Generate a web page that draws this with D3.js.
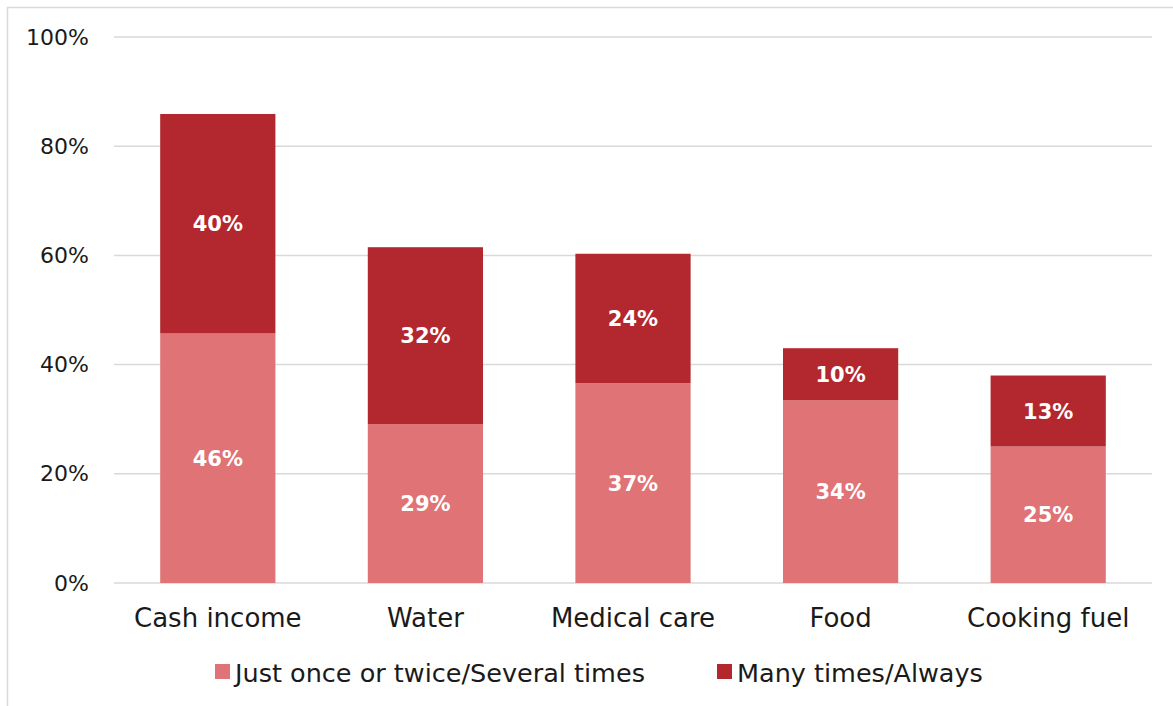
<!DOCTYPE html>
<html>
<head>
<meta charset="utf-8">
<script src="https://cdnjs.cloudflare.com/ajax/libs/d3/7.8.5/d3.min.js"></script>
<style>
  html, body { margin: 0; padding: 0; background: #fff; }
  svg { display: block; }
  text { font-family: "DejaVu Sans", sans-serif; }
</style>
</head>
<body>
<svg id="chart" width="1173" height="706"></svg>
<script>
const categories = ["Cash income", "Water", "Medical care", "Food", "Cooking fuel"];
const seriesNames = ["Just once or twice/Several times", "Many times/Always"];
const lowerValues = [45.7, 29.1, 36.6, 33.5, 25.0];
const upperValues = [40.2, 32.4, 23.7, 9.5, 13.0];
const yTicks = [0, 20, 40, 60, 80, 100];
const colors = ["#E07376", "#B3282E"];

const svg = d3.select("#chart");
const W = 1173, H = 706;
const plot = { left: 114, right: 1152, top: 37, bottom: 583 };

// outer border
svg.append("rect").attr("x", 7.5).attr("y", 7.5).attr("width", W + 10).attr("height", H + 10)
  .attr("fill", "none").attr("stroke", "#D9D9D9").attr("stroke-width", 1.5);

const x = d3.scaleBand().domain(categories).range([plot.left, plot.right])
  .paddingInner(0.445).paddingOuter(0.2225);
const y = d3.scaleLinear().domain([0, 100]).range([plot.bottom, plot.top]);

// gridlines
svg.append("g").selectAll("line").data(yTicks).join("line")
  .attr("x1", plot.left).attr("x2", plot.right)
  .attr("y1", d => y(d)).attr("y2", d => y(d))
  .attr("stroke", "#D9D9D9").attr("stroke-width", 1.5);

// y axis labels
const yAxis = d3.axisLeft(y).tickValues(yTicks).tickFormat(d => d + "%").tickSize(0).tickPadding(0);
const yg = svg.append("g").attr("transform", `translate(89,0)`).call(yAxis);
yg.select(".domain").remove();
yg.selectAll("text").attr("font-size", 22).attr("fill", "#1a1a1a").attr("font-family", "DejaVu Sans");

// x axis labels
const xAxis = d3.axisBottom(x).tickSize(0).tickPadding(0);
const xg = svg.append("g").attr("transform", `translate(0,${plot.bottom})`).call(xAxis);
xg.select(".domain").remove();
xg.selectAll("text").attr("font-size", 26).attr("fill", "#1a1a1a").attr("font-family", "DejaVu Sans")
  .attr("dy", null).attr("y", 44);

// stacked data
const data = categories.map((c, i) => ({ cat: c, lower: lowerValues[i], upper: upperValues[i] }));
const stack = d3.stack().keys(["lower", "upper"]);
const series = stack(data);

const g = svg.append("g");
series.forEach((s, si) => {
  g.append("g").selectAll("rect").data(s).join("rect")
    .attr("x", d => x(d.data.cat))
    .attr("width", x.bandwidth())
    .attr("y", d => y(d[1]))
    .attr("height", d => y(d[0]) - y(d[1]))
    .attr("fill", colors[si]);
  g.append("g").selectAll("text").data(s).join("text")
    .attr("x", d => x(d.data.cat) + x.bandwidth() / 2)
    .attr("y", d => (y(d[0]) + y(d[1])) / 2)
    .attr("dy", "0.36em")
    .attr("text-anchor", "middle")
    .attr("fill", "#fff")
    .attr("font-weight", "bold")
    .attr("font-size", 21)
    .text(d => Math.round(d[1] - d[0]) + "%");
});

// legend
const legendItems = [
  { name: seriesNames[0], color: colors[0], x: 215 },
  { name: seriesNames[1], color: colors[1], x: 717 }
];
const lg = svg.append("g");
legendItems.forEach(it => {
  lg.append("rect").attr("x", it.x).attr("y", 664).attr("width", 15).attr("height", 15).attr("fill", it.color);
  lg.append("text").attr("x", it.x + 20).attr("y", 673).attr("dy", "0.36em")
    .attr("font-size", 25.5).attr("fill", "#1a1a1a").text(it.name);
});
</script>
</body>
</html>
